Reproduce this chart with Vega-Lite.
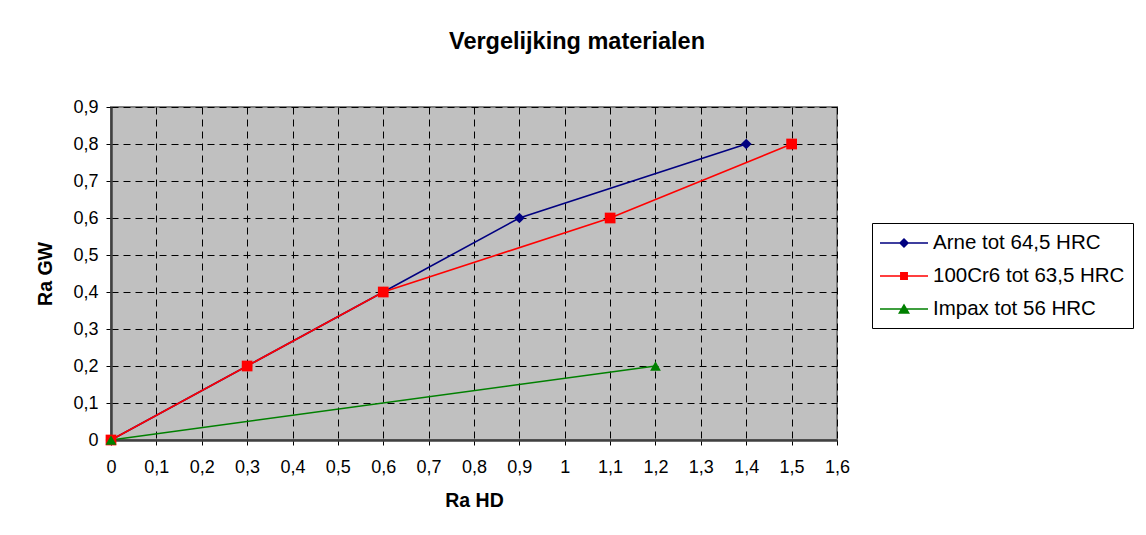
{
  "$schema": "https://vega.github.io/schema/vega-lite/v6.json",
  "width": 726,
  "height": 333,
  "autosize": {"type": "none"},
  "padding": {"left": 111, "top": 107, "right": 309, "bottom": 95},
  "background": "white",
  "title": {
    "text": "Vergelijking materialen",
    "anchor": "middle",
    "frame": "group",
    "dx": 103,
    "offset": 45,
    "font": "Liberation Sans",
    "fontSize": 23.5,
    "fontWeight": "bold",
    "color": "#000000"
  },
  "data": {
    "values": [
      {"series": "Arne tot 64,5 HRC", "hd": 0, "gw": 0},
      {"series": "Arne tot 64,5 HRC", "hd": 0.3, "gw": 0.2},
      {"series": "Arne tot 64,5 HRC", "hd": 0.6, "gw": 0.4},
      {"series": "Arne tot 64,5 HRC", "hd": 0.9, "gw": 0.6},
      {"series": "Arne tot 64,5 HRC", "hd": 1.4, "gw": 0.8},
      {"series": "100Cr6 tot 63,5 HRC", "hd": 0, "gw": 0},
      {"series": "100Cr6 tot 63,5 HRC", "hd": 0.3, "gw": 0.2},
      {"series": "100Cr6 tot 63,5 HRC", "hd": 0.6, "gw": 0.4},
      {"series": "100Cr6 tot 63,5 HRC", "hd": 1.1, "gw": 0.6},
      {"series": "100Cr6 tot 63,5 HRC", "hd": 1.5, "gw": 0.8},
      {"series": "Impax tot 56 HRC", "hd": 0, "gw": 0},
      {"series": "Impax tot 56 HRC", "hd": 1.2, "gw": 0.2}
    ]
  },
  "encoding": {
    "x": {
      "field": "hd",
      "type": "quantitative",
      "scale": {"domain": [0, 1.6], "nice": false, "zero": true},
      "axis": {
        "title": "Ra HD",
        "values": [0, 0.1, 0.2, 0.3, 0.4, 0.5, 0.6, 0.7, 0.8, 0.9, 1, 1.1, 1.2, 1.3, 1.4, 1.5, 1.6],
        "labelExpr": "replace(format(datum.value, '.1~f'), '.', ',')",
        "labelFlush": false,
        "labelOverlap": false,
        "labelFont": "Liberation Sans",
        "labelFontSize": 18,
        "labelColor": "#000000",
        "labelPadding": 13,
        "tickSize": 5,
        "tickColor": "#000000",
        "domainColor": "#404040",
        "domainWidth": 2.5,
        "grid": true,
        "gridColor": "#000000",
        "gridDash": [7, 5],
        "gridWidth": 1,
        "gridOpacity": 1,
        "titleFont": "Liberation Sans",
        "titleFontSize": 19.5,
        "titleFontWeight": "bold",
        "titleColor": "#000000",
        "titlePadding": 15
      }
    },
    "y": {
      "field": "gw",
      "type": "quantitative",
      "scale": {"domain": [0, 0.9], "nice": false, "zero": true},
      "axis": {
        "title": "Ra GW",
        "values": [0, 0.1, 0.2, 0.3, 0.4, 0.5, 0.6, 0.7, 0.8, 0.9],
        "labelExpr": "replace(format(datum.value, '.1~f'), '.', ',')",
        "labelFlush": false,
        "labelOverlap": false,
        "labelFont": "Liberation Sans",
        "labelFontSize": 18,
        "labelColor": "#000000",
        "labelPadding": 8,
        "tickSize": 5,
        "tickColor": "#000000",
        "domainColor": "#404040",
        "domainWidth": 2.5,
        "grid": true,
        "gridColor": "#000000",
        "gridDash": [7, 5],
        "gridWidth": 1,
        "gridOpacity": 1,
        "titleFont": "Liberation Sans",
        "titleFontSize": 19.5,
        "titleFontWeight": "bold",
        "titleColor": "#000000",
        "titlePadding": 17
      }
    }
  },
  "layer": [
    {
      "mark": {"type": "line", "strokeWidth": 1.6},
      "encoding": {
        "color": {
          "field": "series",
          "type": "nominal",
          "scale": {
            "domain": ["Arne tot 64,5 HRC", "100Cr6 tot 63,5 HRC", "Impax tot 56 HRC"],
            "range": ["#000080", "#FF0000", "#008000"]
          },
          "legend": null
        },
        "order": {"field": "hd", "type": "quantitative"}
      }
    },
    {
      "mark": {"type": "point", "filled": true, "opacity": 1, "size": 115},
      "encoding": {
        "color": {
          "field": "series",
          "type": "nominal",
          "scale": {
            "domain": ["Arne tot 64,5 HRC", "100Cr6 tot 63,5 HRC", "Impax tot 56 HRC"],
            "range": ["#000080", "#FF0000", "#008000"]
          },
          "legend": null
        },
        "shape": {
          "field": "series",
          "type": "nominal",
          "scale": {
            "domain": ["Arne tot 64,5 HRC", "100Cr6 tot 63,5 HRC", "Impax tot 56 HRC"],
            "range": ["diamond", "square", "triangle-up"]
          },
          "legend": null
        }
      }
    },
    {
      "transform": [{"filter": "datum.hd < 0"}],
      "mark": {"type": "point", "filled": true, "opacity": 1},
      "encoding": {
        "color": {
          "field": "series",
          "type": "nominal",
          "scale": {
            "domain": ["Arne tot 64,5 HRC", "100Cr6 tot 63,5 HRC", "Impax tot 56 HRC"],
            "range": ["#000080", "#FF0000", "#008000"]
          },
          "legend": {
            "orient": "none",
            "legendX": 761,
            "legendY": 116,
            "title": null,
            "strokeColor": "#000000",
            "fillColor": "#FFFFFF",
            "padding": 8,
            "labelFont": "Liberation Sans",
            "labelFontSize": 20.5,
            "labelColor": "#000000",
            "labelLimit": 400,
            "labelOffset": 29,
            "symbolSize": 576,
            "symbolStrokeWidth": 0,
            "rowPadding": 10
          }
        },
        "shape": {
          "field": "series",
          "type": "nominal",
          "scale": {
            "domain": ["Arne tot 64,5 HRC", "100Cr6 tot 63,5 HRC", "Impax tot 56 HRC"],
            "range": [
              "M-1,-0.06H3V0.06H-1Z M0.58,0L1,-0.42L1.42,0L1,0.42Z",
              "M-1,-0.06H3V0.06H-1Z M0.67,-0.33H1.33V0.33H0.67Z",
              "M-1,-0.06H3V0.06H-1Z M1,-0.45L1.5,0.4H0.5Z"
            ]
          },
          "legend": {
            "orient": "none",
            "legendX": 761,
            "legendY": 116,
            "title": null,
            "strokeColor": "#000000",
            "fillColor": "#FFFFFF",
            "padding": 8,
            "labelFont": "Liberation Sans",
            "labelFontSize": 20.5,
            "labelColor": "#000000",
            "labelLimit": 400,
            "labelOffset": 29,
            "symbolSize": 576,
            "symbolStrokeWidth": 0,
            "rowPadding": 10
          }
        }
      }
    }
  ],
  "resolve": {"scale": {"color": "independent", "shape": "independent"}},
  "config": {
    "font": "Liberation Sans",
    "view": {"fill": "#C0C0C0", "stroke": "#808080", "strokeWidth": 2}
  }
}
